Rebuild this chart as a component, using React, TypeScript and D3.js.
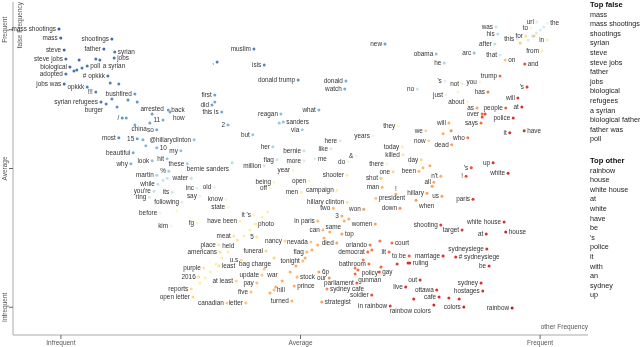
import React, { useMemo } from 'react';
import * as d3 from 'd3';

// [term, other frequency (rank %), false frequency (rank %), score 0 = other .. 1 = false]
const falseTerms: [string, number, number, number][] = [
  ['mass shootings', 8.0, 91.9, 0.95],
  ['mass', 8.3, 89.2, 0.93],
  ['shootings', 17.2, 88.9, 0.92],
  ['father', 15.8, 85.9, 0.92],
  ['syrian', 17.7, 85.0, 0.9],
  ['steve', 8.9, 85.6, 0.93],
  ['steve jobs', 9.2, 82.9, 0.92],
  ['jobs', 17.6, 83.2, 0.9],
  ['a syrian', 15.1, 82.6, 0.9],
  ['biological', 9.9, 80.5, 0.92],
  ['poll', 12.9, 80.8, 0.9],
  ['adopted', 9.2, 78.4, 0.9],
  ['# opkkk', 16.5, 77.8, 0.9],
  ['jobs was', 8.9, 75.4, 0.92],
  ['opkkk', 12.9, 74.5, 0.88],
  ['!!!', 14.4, 73.0, 0.87],
  ['bushfired', 21.2, 72.4, 0.83],
  ['syrian refugees', 15.3, 70.0, 0.9],
  ['burger', 16.2, 69.4, 0.88],
  ['arrested', 24.2, 66.4, 0.82],
  ['back', 27.0, 67.6, 0.82],
  ['how', 27.3, 67.0, 0.8],
  ['/', 19.0, 65.2, 0.85],
  ['11', 26.1, 64.6, 0.8],
  ['china', 23.8, 63.7, 0.82],
  ['so', 25.0, 61.6, 0.8],
  ['most', 18.4, 59.2, 0.85],
  ['15', 21.6, 58.9, 0.82],
  ['@hillaryclinton', 31.5, 58.6, 0.75],
  ['my', 29.2, 55.3, 0.75],
  ['beautiful', 20.9, 54.7, 0.8],
  ['10', 25.0, 56.2, 0.77],
  ['look', 24.2, 52.3, 0.75],
  ['hit', 26.8, 52.9, 0.74],
  ['why', 20.5, 51.4, 0.78],
  ['these', 30.3, 51.4, 0.72],
  ['%', 27.1, 49.2, 0.72],
  ['martin', 25.0, 48.0, 0.7],
  ['water', 31.0, 47.1, 0.66],
  ['while', 25.2, 45.3, 0.66],
  ["you're", 24.5, 43.2, 0.65],
  ['its', 27.7, 42.9, 0.64],
  ['ring', 23.7, 41.4, 0.62],
  ['following', 29.4, 39.9, 0.6],
  ['before', 25.6, 36.6, 0.55],
  ['kim', 27.5, 32.7, 0.55],
];

const middleTerms: [string, number, number, number][] = [
  [',', 35.5, 82.0, 0.88],
  ['muslim', 41.9, 85.9, 0.88],
  ['isis', 43.7, 81.1, 0.86],
  ['donald trump', 49.6, 76.6, 0.85],
  ['donald', 57.9, 76.3, 0.8],
  ['watch', 57.7, 73.9, 0.8],
  ['first', 35.1, 72.1, 0.82],
  ['did', 34.6, 69.1, 0.82],
  ['what', 53.2, 67.6, 0.78],
  ['this is', 36.3, 67.0, 0.8],
  ['2', 37.4, 63.1, 0.78],
  ['reagan', 46.6, 66.4, 0.76],
  ['sanders', 47.0, 64.0, 0.75],
  ['via', 50.3, 61.6, 0.72],
  ['but', 41.7, 60.1, 0.74],
  ['her', 45.2, 56.5, 0.7],
  ['bernie', 50.6, 55.3, 0.66],
  ['like', 55.3, 55.9, 0.62],
  ['here', 56.9, 58.3, 0.62],
  ['flag', 45.9, 52.6, 0.65],
  ['more', 50.6, 52.3, 0.62],
  ['me', 52.5, 52.9, 0.6],
  ['million', 43.7, 50.8, 0.64],
  ['bernie sanders', 38.1, 51.7, 0.68],
  ['&', 59.7, 53.8, 0.55],
  ['do', 58.3, 52.0, 0.55],
  ['years', 62.6, 59.8, 0.56],
  ['shooter', 58.1, 48.0, 0.45],
  ['year', 48.7, 49.5, 0.52],
  ['being', 45.4, 45.9, 0.52],
  ['off', 44.7, 44.1, 0.52],
  ['open', 51.5, 46.2, 0.5],
  ['old', 35.0, 44.4, 0.58],
  ['inc', 32.0, 44.1, 0.6],
  ['say', 32.5, 41.7, 0.58],
  ['know', 37.0, 40.8, 0.55],
  ['men', 50.1, 42.9, 0.45],
  ['campaign', 56.3, 43.5, 0.45],
  ['hillary clinton', 58.1, 39.9, 0.42],
  ['president', 63.1, 41.1, 0.35],
  ['state', 37.4, 38.4, 0.5],
  ["it 's", 41.9, 36.0, 0.48],
  ['two', 55.7, 38.1, 0.32],
  ['3', 57.2, 35.7, 0.3],
  ['won', 61.0, 37.8, 0.28],
  ['down', 67.3, 38.1, 0.25],
  ['have been', 39.5, 34.2, 0.45],
  ['in paris', 53.0, 34.2, 0.32],
  ['same', 57.6, 34.2, 0.3],
  ['fg', 32.0, 33.6, 0.48],
  ['photo', 42.1, 33.3, 0.45],
  ['meat', 38.4, 29.7, 0.42],
  ['5', 42.4, 29.4, 0.42],
  ['held', 39.0, 28.5, 0.42],
  ['place', 35.8, 27.0, 0.42],
  ['nancy', 47.3, 28.2, 0.38],
  ['nevada', 51.8, 27.9, 0.35],
  ['can', 53.9, 31.5, 0.32],
  ['top', 57.2, 30.3, 0.28],
  ['americans', 36.0, 24.9, 0.4],
  ['funeral', 44.0, 25.2, 0.38],
  ['flag', 51.1, 24.9, 0.32],
  ['died', 56.3, 27.6, 0.28],
  ['u.s', 39.7, 22.5, 0.4],
  ['bag charge', 45.4, 23.1, 0.38],
  ['tonight', 50.4, 22.2, 0.33],
  ['purple', 33.2, 20.1, 0.42],
  ['least', 35.8, 20.7, 0.4],
  ['war', 43.7, 19.8, 0.36],
  ['2016', 32.3, 17.4, 0.4],
  ['at least', 38.8, 16.2, 0.38],
  ['update', 43.3, 18.0, 0.36],
  ['stock', 49.4, 17.4, 0.32],
  ['6p', 53.2, 18.9, 0.28],
  ['our', 55.0, 17.1, 0.26],
  ['gunman', 59.5, 18.3, 0.2],
  ['reports', 31.0, 13.8, 0.4],
  ['pay', 42.4, 15.6, 0.34],
  ['five', 41.4, 12.9, 0.34],
  ['hill', 45.4, 13.5, 0.33],
  ['prince', 48.9, 14.7, 0.3],
  ['sydney cafe', 54.6, 13.8, 0.25],
  ['open letter', 31.3, 11.4, 0.38],
  ['canadian', 37.2, 9.6, 0.36],
  ['letter', 40.5, 9.6, 0.35],
  ['turned', 48.5, 10.2, 0.3],
  ['strategist', 53.7, 9.9, 0.28],
];

const otherTerms: [string, number, number, number][] = [
  ['was', 84.0, 92.5, 0.65],
  ['url', 91.1, 94.0, 0.6],
  ['the', 92.9, 93.7, 0.55],
  ['to', 90.1, 92.2, 0.55],
  ['his', 84.3, 90.4, 0.68],
  ['this', 87.7, 88.9, 0.6],
  ['for', 89.2, 89.8, 0.4],
  ['in', 92.9, 88.6, 0.45],
  ['after', 83.8, 87.4, 0.68],
  ['from', 92.0, 85.3, 0.45],
  ['that', 84.7, 84.1, 0.62],
  ['on', 85.6, 82.6, 0.35],
  ['and', 89.0, 81.4, 0.15],
  ['arc', 80.2, 84.7, 0.75],
  ['new', 64.7, 87.4, 0.82],
  ['obama', 73.6, 84.4, 0.75],
  ['he', 75.0, 81.7, 0.7],
  ["'s", 75.1, 76.3, 0.6],
  ['not', 78.1, 75.4, 0.58],
  ['you', 81.2, 76.0, 0.55],
  ['trump', 84.7, 77.8, 0.2],
  ["'s", 89.4, 74.5, 0.12],
  ['no', 70.3, 73.9, 0.65],
  ['just', 75.3, 72.1, 0.55],
  ['has', 82.6, 73.0, 0.22],
  ['about', 79.0, 70.0, 0.48],
  ['will', 87.8, 71.2, 0.12],
  ['as', 80.7, 68.2, 0.28],
  ['people', 85.7, 68.2, 0.18],
  ['at', 88.5, 68.5, 0.1],
  ['police', 87.0, 65.2, 0.1],
  ['over', 81.6, 66.4, 0.2],
  ['says', 81.4, 63.7, 0.2],
  ['will', 75.8, 63.7, 0.3],
  ['have', 88.9, 61.3, 0.1],
  ['it', 86.4, 60.7, 0.1],
  ['they', 67.0, 62.8, 0.5],
  ['we', 71.8, 61.3, 0.38],
  ['who', 79.1, 59.2, 0.22],
  ['now', 72.3, 58.3, 0.38],
  ['dead', 76.3, 57.1, 0.28],
  ['today', 67.7, 56.5, 0.45],
  ['killed', 67.8, 54.1, 0.42],
  ['day', 71.0, 52.6, 0.38],
  ['there', 65.0, 51.4, 0.5],
  ['one', 66.1, 49.0, 0.38],
  ['been', 70.6, 49.2, 0.32],
  ["n't", 74.4, 47.7, 0.3],
  ['all', 73.2, 45.9, 0.3],
  ['hillary', 72.0, 42.6, 0.28],
  ['us', 74.6, 41.7, 0.28],
  ['when', 70.1, 40.5, 0.28],
  ['man', 64.2, 44.4, 0.32],
  ['shot', 64.0, 47.1, 0.36],
  ['!', 66.6, 42.3, 0.3],
  ['up', 83.5, 51.7, 0.1],
  ["'s", 79.7, 50.2, 0.15],
  ['white', 86.1, 48.6, 0.1],
  ['!', 78.8, 47.7, 0.15],
  ['paris', 80.0, 40.8, 0.12],
  ['women', 63.0, 33.3, 0.28],
  ['shooting', 74.4, 33.0, 0.12],
  ['target', 78.1, 31.5, 0.12],
  ['white house', 85.4, 33.9, 0.1],
  ['at', 82.3, 30.3, 0.1],
  ['house', 85.7, 30.9, 0.08],
  ['orlando', 62.1, 27.0, 0.22],
  ['court', 65.9, 27.6, 0.2],
  ['lit', 65.4, 24.9, 0.2],
  ['to be', 68.9, 23.7, 0.18],
  ['democrat', 61.7, 24.9, 0.2],
  ['marriage', 74.8, 23.7, 0.1],
  ['sydneysiege', 82.4, 25.8, 0.1],
  ['# sydneysiege', 77.0, 23.4, 0.1],
  ['bathroom', 61.9, 21.3, 0.2],
  ['policy', 64.0, 20.4, 0.18],
  ['ruling', 69.0, 21.6, 0.1],
  ['be', 82.8, 20.7, 0.1],
  ['gay', 63.7, 18.9, 0.15],
  ['out', 70.8, 16.5, 0.1],
  ['parliament', 59.8, 15.6, 0.18],
  ['ottawa', 73.7, 13.5, 0.1],
  ['sydney', 81.4, 15.6, 0.1],
  ['hostages', 81.7, 13.2, 0.1],
  ['soldier', 62.4, 12.0, 0.15],
  ['live', 68.3, 14.4, 0.1],
  ['cafe', 74.1, 11.4, 0.1],
  ['in rainbow', 65.6, 8.7, 0.12],
  ['rainbow colors', 73.2, 9.0, 0.08],
  ['colors', 78.4, 8.4, 0.08],
  ['rainbow', 86.8, 8.1, 0.05],
];

// terms drawn without a label (no room in the original)
const unlabeled: [number, number, number][] = [
  [10.6, 79.3, 0.9], [11.1, 79.6, 0.9], [12.0, 80.2, 0.9], [11.5, 82.6, 0.92], [14.4, 82.9, 0.9],
  [16.9, 75.7, 0.88], [18.4, 75.4, 0.87], [17.2, 70.9, 0.86], [20.0, 70.6, 0.85], [21.6, 70.0, 0.84],
  [18.1, 68.5, 0.85], [19.7, 65.2, 0.82], [21.2, 63.1, 0.8], [22.6, 58.6, 0.78], [23.1, 56.8, 0.77],
  [26.1, 46.5, 0.65], [26.8, 47.1, 0.65], [35.1, 70.0, 0.8], [46.3, 63.7, 0.74], [28.5, 37.2, 0.52],
  [32.5, 15.6, 0.45], [33.4, 17.1, 0.45], [34.3, 18.9, 0.45], [35.3, 21.3, 0.45], [36.3, 23.1, 0.45],
  [37.4, 24.9, 0.45], [40.2, 29.7, 0.45], [41.2, 31.5, 0.45], [42.3, 33.3, 0.45], [43.3, 35.4, 0.46],
  [44.3, 36.9, 0.46], [44.7, 12.6, 0.3], [45.7, 14.4, 0.3], [46.8, 16.2, 0.3], [48.2, 18.9, 0.3],
  [49.2, 20.7, 0.3], [50.8, 23.1, 0.3], [52.0, 25.5, 0.3], [53.0, 27.0, 0.3], [54.1, 29.1, 0.3],
  [55.1, 30.9, 0.3], [59.5, 20.1, 0.22], [60.9, 22.5, 0.22], [62.4, 25.5, 0.22], [63.8, 28.2, 0.22],
  [89.6, 88.6, 0.62], [90.3, 89.8, 0.62], [91.0, 90.7, 0.62], [91.7, 91.6, 0.62], [92.3, 92.5, 0.62],
  [88.2, 87.7, 0.35], [90.6, 89.8, 0.35], [69.7, 10.8, 0.1], [75.8, 11.1, 0.1], [77.6, 10.8, 0.1],
  [66.8, 21.3, 0.12], [68.7, 21.6, 0.1], [60.0, 19.5, 0.2], [58.4, 34.8, 0.3], [81.6, 65.5, 0.15],
  [82.1, 66.4, 0.15], [74.8, 60.4, 0.3], [76.2, 61.3, 0.25], [72.5, 50.8, 0.3], [71.3, 50.2, 0.32],
  [72.9, 44.7, 0.28], [78.1, 75.7, 0.55], [77.4, 73.0, 0.55],
];

const tickValues = [100 / 12, 50, 1100 / 12];
const tickLabels = ['Infrequent', 'Average', 'Frequent'];

const topFalse = ['mass', 'mass shootings', 'shootings', 'syrian', 'steve', 'steve jobs', 'father', 'jobs',
  'biological', 'refugees', 'a syrian', 'biological father', 'father was', 'poll'];
const topOther = ['rainbow', 'house', 'white house', 'at', 'white', 'have', 'be', "'s", 'police', 'it',
  'with', 'an', 'sydney', 'up'];

const FONT = 'Arial, "Liberation Sans", Helvetica, sans-serif';
const LABEL_SIZE = 6.4;
const R = 1.5;

const x = d3.scaleLinear().domain([0, 100]).range([13, 588]);
const y = d3.scaleLinear().domain([0, 100]).range([335, 2]);
const color = (s: number) => d3.interpolateRdYlBu(s);

// scattertext-like label spots: left, right, then below, then above/below centred
const spots = [
  { anchor: 'end', dx: -3, dy: 2 },
  { anchor: 'start', dx: 3, dy: 2 },
  { anchor: 'end', dx: -3, dy: 8 },
  { anchor: 'start', dx: 3, dy: 8 },
  { anchor: 'middle', dx: 0, dy: -3 },
  { anchor: 'middle', dx: 0, dy: 9 },
];

function placeLabels() {
  const ctx = document.createElement('canvas').getContext('2d')!;
  ctx.font = `${LABEL_SIZE}px ${FONT}`;
  const pts = [...falseTerms, ...middleTerms, ...otherTerms].map(d => ({
    term: d[0], cx: x(d[1]), cy: y(d[2]), s: d[3],
  }));
  const dots = [...pts.map(p => [p.cx, p.cy]), ...unlabeled.map(d => [x(d[0]), y(d[1])])];
  const boxes: number[][] = [];
  const asc = LABEL_SIZE * 0.72, desc = LABEL_SIZE * 0.2;
  return pts.map(p => {
    const w = ctx.measureText(p.term).width;
    let pick: any = null;
    for (const c of spots) {
      const x0 = c.anchor === 'end' ? p.cx + c.dx - w : c.anchor === 'start' ? p.cx + c.dx : p.cx - w / 2;
      const b = [x0, p.cy + c.dy - asc, x0 + w, p.cy + c.dy + desc];
      if (b[0] < 10 || b[2] > 589 || b[1] < 0 || b[3] > 333) continue;
      if (boxes.some(o => !(b[2] < o[0] || b[0] > o[2] || b[3] < o[1] || b[1] > o[3]))) continue;
      if (dots.some(([dx, dy]) => !(dx === p.cx && dy === p.cy) &&
        dx + 1 > b[0] && dx - 1 < b[2] && dy + 1 > b[1] && dy - 1 < b[3])) continue;
      pick = { ...c, box: b };
      break;
    }
    if (!pick) {
      const c = spots[0];
      pick = { ...c, box: [p.cx - 3 - w, p.cy + 2 - asc, p.cx - 3, p.cy + 2 + desc] };
    }
    boxes.push(pick.box);
    return { ...p, lx: p.cx + pick.dx, ly: p.cy + pick.dy, anchor: pick.anchor };
  });
}

export default function App() {
  const labeled = useMemo(placeLabels, []);
  const axisColor = '#aaa';
  return (
    <svg width={640} height={347} style={{ position: 'fixed', left: 0, top: 0 }} fontFamily={FONT}>
      {/* axes */}
      <line x1={13} x2={588} y1={335} y2={335} stroke={axisColor} />
      <line x1={13} x2={13} y1={2} y2={335} stroke={axisColor} />
      {tickValues.map((t, i) => (
        <g key={'x' + i}>
          <line x1={x(t)} x2={x(t)} y1={335} y2={339} stroke="#666" />
          <text x={x(t)} y={345} fontSize={6.5} fill="#555" textAnchor="middle">{tickLabels[i]}</text>
          <line x1={9} x2={13} y1={y(t)} y2={y(t)} stroke="#666" />
          <text transform={`translate(7,${y(t)}) rotate(-90)`} fontSize={6.5} fill="#555" textAnchor="middle">
            {tickLabels[i]}
          </text>
        </g>
      ))}
      <text transform="translate(17,2) rotate(-90)" dy="0.75em" fontSize={6.5} fill="#555" textAnchor="end">
        false Frequency
      </text>
      <text x={588} y={329} fontSize={6.5} fill="#555" textAnchor="end">other Frequency</text>

      {/* points */}
      {unlabeled.map((d, i) => (
        <circle key={'u' + i} cx={x(d[0])} cy={y(d[1])} r={R} fill={color(d[2])} />
      ))}
      {labeled.map((d, i) => (
        <circle key={'p' + i} cx={d.cx} cy={d.cy} r={R} fill={color(d.s)} />
      ))}
      {labeled.map((d, i) => (
        <text key={'l' + i} x={d.lx} y={d.ly} fontSize={LABEL_SIZE} fill="#333" textAnchor={d.anchor}>
          {d.term}
        </text>
      ))}

      {/* legend */}
      <text x={590} y={7} fontSize={7.6} fontWeight="bold" fill="#111">Top false</text>
      {topFalse.map((t, i) => (
        <text key={'f' + i} x={590} y={16.5 + i * 9.6} fontSize={7.2} fill="#222">{t}</text>
      ))}
      <text x={590} y={163} fontSize={7.6} fontWeight="bold" fill="#111">Top other</text>
      {topOther.map((t, i) => (
        <text key={'o' + i} x={590} y={172.5 + i * 9.6} fontSize={7.2} fill="#222">{t}</text>
      ))}
    </svg>
  );
}
